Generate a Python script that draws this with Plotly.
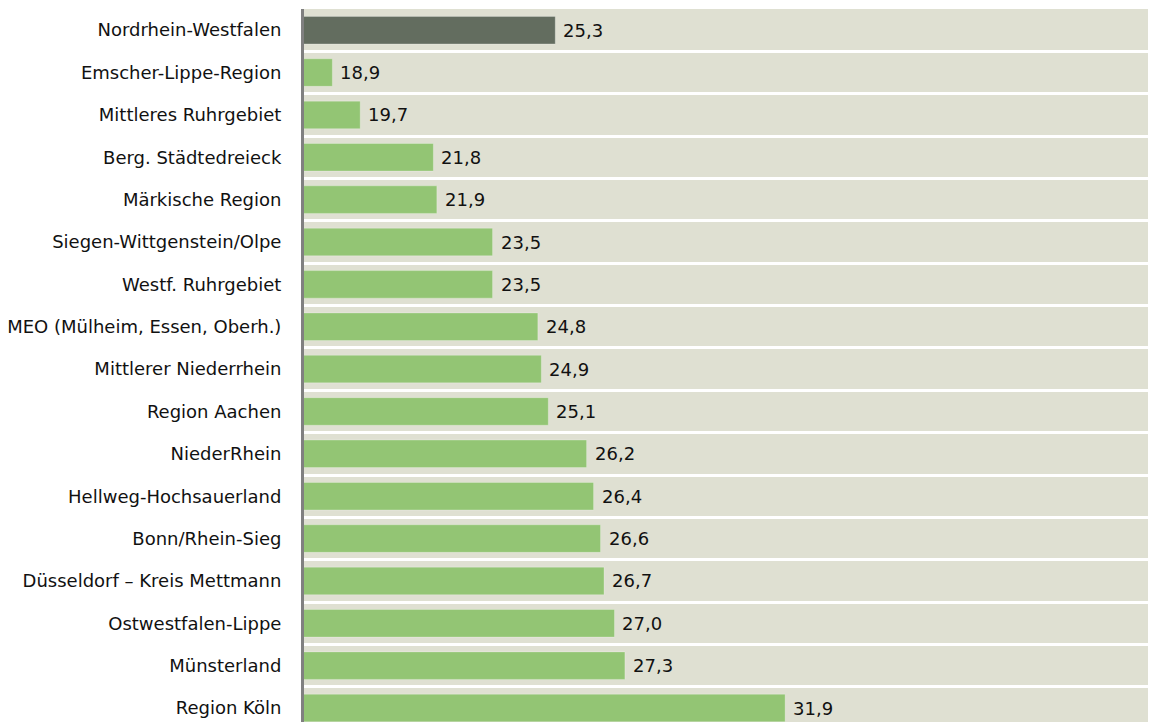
import plotly.graph_objects as go

regions = [
    "Nordrhein-Westfalen", "Emscher-Lippe-Region", "Mittleres Ruhrgebiet",
    "Berg. Städtedreieck", "Märkische Region", "Siegen-Wittgenstein/Olpe",
    "Westf. Ruhrgebiet", "MEO (Mülheim, Essen, Oberh.)", "Mittlerer Niederrhein",
    "Region Aachen", "NiederRhein", "Hellweg-Hochsauerland", "Bonn/Rhein-Sieg",
    "Düsseldorf – Kreis Mettmann", "Ostwestfalen-Lippe", "Münsterland", "Region Köln",
]
values = [25.3, 18.9, 19.7, 21.8, 21.9, 23.5, 23.5, 24.8, 24.9, 25.1,
          26.2, 26.4, 26.6, 26.7, 27.0, 27.3, 31.9]

DARK = "#636d5f"
GREEN = "#93c574"
colors = [DARK] + [GREEN] * (len(regions) - 1)
labels = [f"{v:.1f}".replace(".", ",") for v in values]

FONT = "DejaVu Sans"
FS = 18

fig = go.Figure(go.Bar(
    x=values, y=regions, orientation="h",
    marker=dict(color=colors, line=dict(color="rgba(255,255,255,0.25)", width=1)),
    width=0.65,
    hoverinfo="skip",
))

for r, v, t in zip(regions, values, labels):
    fig.add_annotation(x=v, y=r, text=t, showarrow=False, xanchor="left",
                       xshift=6, font=dict(family=FONT, size=FS, color="#111111"))

fig.update_layout(
    width=1170, height=714,
    margin=dict(l=296, r=0, t=1, b=0),
    paper_bgcolor="white", plot_bgcolor="#dfe0d2",
    showlegend=False,
    font=dict(family=FONT, size=FS, color="#111111"),
    xaxis=dict(range=[18.086, 43.18], showgrid=False, zeroline=False,
               showticklabels=False, ticks=""),
    yaxis=dict(categoryorder="array", categoryarray=regions,
               range=[16.33, -0.5], tickson="boundaries",
               showgrid=True, gridcolor="white", gridwidth=2.5,
               showline=True, linecolor="#808080", linewidth=3,
               ticks="", ticklabelstandoff=16,
               tickfont=dict(family=FONT, size=FS, color="#111111")),
)

fig.write_html("out.html")
